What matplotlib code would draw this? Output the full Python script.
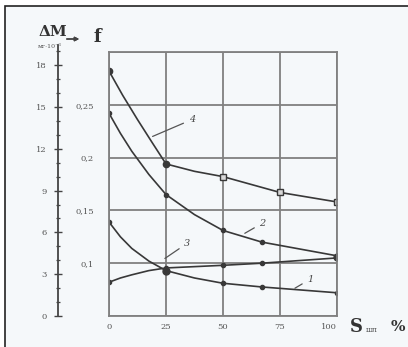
import matplotlib.pyplot as plt
from matplotlib.ticker import MultipleLocator
from matplotlib.patches import Rectangle

# values (f-axis units)
s_ticks = [0, 25, 50, 75, 100]
s_labels = ['0', '25', '50', '75', '100']
f_ticks = [0.05, 0.10, 0.15, 0.20, 0.25, 0.30]
f_labels = ['', '0,1', '0,15', '0,2', '0,25', '']
dm_ticks = [0, 3, 6, 9, 12, 15, 18]

s1 = [0, 5, 10, 17.5, 25, 37.5, 50, 67, 100]
f1 = [0.139, 0.125, 0.114, 0.102, 0.093, 0.086, 0.081, 0.0775, 0.072]
m1 = [0, 4, 6, 7, 8]

s2 = [0, 5, 10, 17.5, 25, 37.5, 50, 67, 100]
f2 = [0.242, 0.223, 0.206, 0.184, 0.165, 0.146, 0.131, 0.120, 0.107]
m2 = [0, 4, 6, 7, 8]

s3 = [0, 5, 10, 17.5, 25, 50, 67, 100]
f3 = [0.082, 0.086, 0.089, 0.093, 0.0955, 0.098, 0.100, 0.105]
m3 = [0, 4, 5, 6, 7]

s4 = [0, 6, 12.5, 19, 25, 37.5, 50, 75, 100]
f4 = [0.282, 0.259, 0.236, 0.214, 0.194, 0.187, 0.182, 0.167, 0.158]

W, H = 408, 347
fig = plt.figure(figsize=(W / 100, H / 100), dpi=100)
fig.patch.set_facecolor('white')


def fx(x):
    return x / W


def fy(y):
    return 1 - y / H


fig.patches.append(Rectangle((fx(5), -0.1), 1.2, fy(6) + 0.1, transform=fig.transFigure,
                             facecolor='#f5f8fa', edgecolor='#222222', lw=1.2, zorder=-10))

ax = fig.add_axes([fx(109), fy(316), 228 / W, 264 / H])
ax.set_facecolor('none')
ax.set_xlim(0, 100)
ax.set_ylim(0.05, 0.30)
ax.set_xticks(s_ticks)
ax.set_xticklabels(s_labels)
ax.set_yticks(f_ticks)
ax.set_yticklabels(f_labels)
ax.grid(color='#808080', lw=1.3)
for sp in ax.spines.values():
    sp.set_color('#808080')
    sp.set_linewidth(1.3)
ax.tick_params(length=0, labelsize=6, labelcolor='#555555')
ax.tick_params(axis='y', pad=11)
ax.tick_params(axis='x', pad=5)
for t in ax.get_xticklabels():
    t.set_family('DejaVu Serif')
ax.get_xticklabels()[-1].set_ha('right')
for t in ax.get_yticklabels():
    t.set_family('DejaVu Serif')

lc = '#383838'
ax.plot(s1, f1, color=lc, lw=1.2, marker='o', ms=3, markevery=m1)
ax.plot(s2, f2, color=lc, lw=1.2, marker='o', ms=3, markevery=m2)
ax.plot(s3, f3, color=lc, lw=1.2, marker='o', ms=3, markevery=m3)
ax.plot(s4, f4, color=lc, lw=1.2)
ax.plot([s4[0], s4[4]], [f4[0], f4[4]], 'o', color=lc, ms=4.5)
ax.plot(s4[6:], f4[6:], 's', color=lc, mfc='#d8d8d8', ms=5)
ax.plot([25], [0.093], 'o', color=lc, ms=5)
ax.plot([100], [0.106], 'o', color=lc, ms=5)

lab = dict(fontsize=7, color='#444444', family='DejaVu Serif', style='italic')
ax.annotate('4', xy=(18, 0.219), xytext=(35, 0.236), va='center',
            arrowprops=dict(arrowstyle='-', color='#555555', lw=0.9), **lab)
ax.annotate('2', xy=(58.5, 0.127), xytext=(66, 0.138), va='center',
            arrowprops=dict(arrowstyle='-', color='#555555', lw=0.9), **lab)
ax.annotate('3', xy=(23.5, 0.103), xytext=(33, 0.119), va='center',
            arrowprops=dict(arrowstyle='-', color='#555555', lw=0.9), **lab)
ax.annotate('1', xy=(80.5, 0.075), xytext=(87, 0.085), va='center',
            arrowprops=dict(arrowstyle='-', color='#555555', lw=0.9), **lab)

# separate Delta M scale on the left
am = fig.add_axes([fx(58), fy(316), 0.0001, 271 / H])
am.set_facecolor('none')
am.set_ylim(0, 19.45)
for k in ['top', 'right', 'bottom']:
    am.spines[k].set_visible(False)
am.spines['left'].set_color('#444444')
am.spines['left'].set_linewidth(1.3)
am.set_xticks([])
am.set_yticks(dm_ticks)
am.yaxis.set_minor_locator(MultipleLocator(1))
am.tick_params(axis='y', which='major', direction='inout', length=6, width=1,
               color='#444444', labelsize=6, labelcolor='#555555', pad=5)
am.tick_params(axis='y', which='minor', direction='inout', length=3.5, width=0.9,
               color='#444444')
for t in am.get_yticklabels():
    t.set_family('DejaVu Serif')

fig.text(fx(53), fy(32), 'ΔM', fontsize=11, fontweight='bold', family='DejaVu Serif',
         ha='center', va='center', color='#333333')
fig.text(fx(50), fy(47), 'мг·10⁻³', fontsize=4.5, family='DejaVu Serif',
         ha='center', va='center', color='#555555')
fig.text(fx(97), fy(37), 'f', fontsize=13, fontweight='bold', family='DejaVu Serif',
         ha='center', va='center', color='#333333')
fig.add_artist(plt.annotate('', xy=(fx(82), fy(39)), xytext=(fx(64), fy(39)),
                            xycoords='figure fraction',
                            arrowprops=dict(arrowstyle='-|>', color='#444444', lw=1,
                                            mutation_scale=6)))
fig.text(fx(356), fy(327), 'S', fontsize=13, fontweight='bold', family='DejaVu Serif',
         ha='center', va='center', color='#333333')
fig.text(fx(372), fy(330), 'шл', fontsize=5.5, family='DejaVu Serif',
         ha='center', va='center', color='#444444')
fig.text(fx(398), fy(327), '%', fontsize=11, fontweight='bold', family='DejaVu Serif',
         ha='center', va='center', color='#333333')

fig.savefig('out.png', dpi=100)
